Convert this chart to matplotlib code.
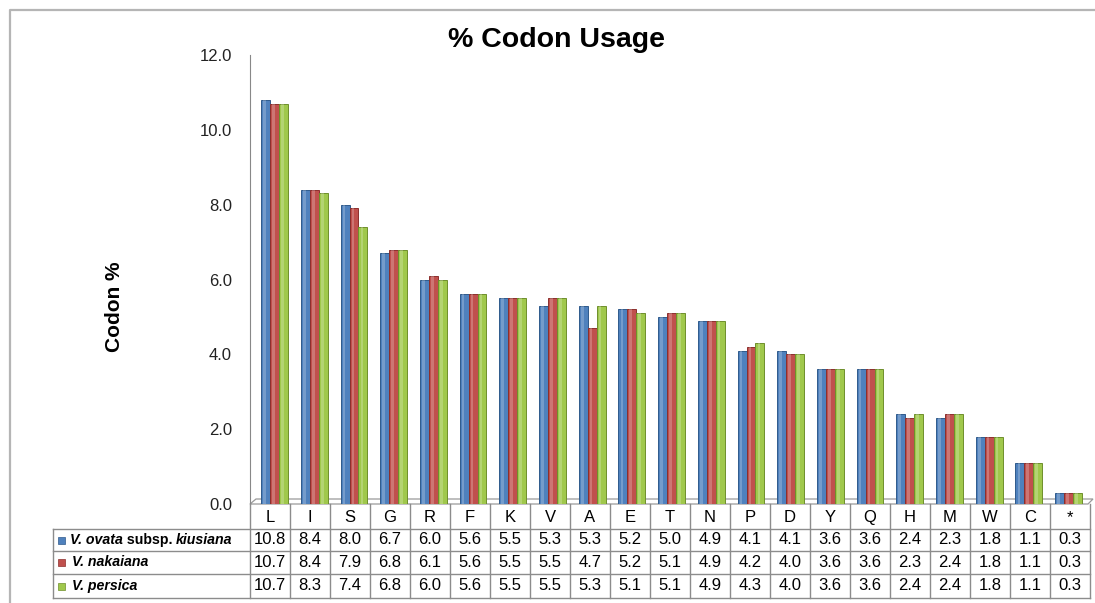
import matplotlib.pyplot as plt
from matplotlib.patches import Polygon, Rectangle
from matplotlib.lines import Line2D
import numpy as np

plt.rcParams['font.family'] = ['Liberation Sans', 'DejaVu Sans']

amino = ['L', 'I', 'S', 'G', 'R', 'F', 'K', 'V', 'A', 'E', 'T',
         'N', 'P', 'D', 'Y', 'Q', 'H', 'M', 'W', 'C', '*']
ovata = [10.8, 8.4, 8.0, 6.7, 6.0, 5.6, 5.5, 5.3, 5.3, 5.2, 5.0,
         4.9, 4.1, 4.1, 3.6, 3.6, 2.4, 2.3, 1.8, 1.1, 0.3]
nakaiana = [10.7, 8.4, 7.9, 6.8, 6.1, 5.6, 5.5, 5.5, 4.7, 5.2, 5.1,
            4.9, 4.2, 4.0, 3.6, 3.6, 2.3, 2.4, 1.8, 1.1, 0.3]
persica = [10.7, 8.3, 7.4, 6.8, 6.0, 5.6, 5.5, 5.5, 5.3, 5.1, 5.1,
           4.9, 4.3, 4.0, 3.6, 3.6, 2.4, 2.4, 1.8, 1.1, 0.3]

series = [ovata, nakaiana, persica]
colors = ['#4f81bd', '#c0504d', '#a0c84c']
edges = ['#2f5a8c', '#8c2f2d', '#6f8f2c']

W, H = 1095, 603
fig = plt.figure(figsize=(W / 100, H / 100), dpi=100)

def frac(x0, y0, x1, y1):
    # pixel box (top-left origin) -> figure fraction rect
    return [x0 / W, 1 - y1 / H, (x1 - x0) / W, (y1 - y0) / H]

# outer frame (top and left edges)
fig.add_artist(Line2D([10 / W, 10 / W, 1], [0, 1 - 10 / H, 1 - 10 / H],
                      transform=fig.transFigure, color='#b5b5b5', lw=1.6))

ax = fig.add_axes(frac(250, 55, 1090, 504))
ax.set_ylim(0, 12)
ax.set_xlim(-0.62, 20.54)
x = np.arange(len(amino))
bw = 0.225
for k, (vals, c, ec) in enumerate(zip(series, colors, edges)):
    pos = x + (k - 1) * bw
    ax.bar(pos, vals, width=bw, color=c, edgecolor=ec, linewidth=0.7, zorder=3)
    # soft highlight for a rounded look
    ax.bar(pos - bw * 0.12, vals, width=bw * 0.3, color='white', alpha=0.22,
           linewidth=0, zorder=4)

for s in ['top', 'right', 'bottom']:
    ax.spines[s].set_visible(False)
ax.spines['left'].set_color('#888888')
ax.set_xticks([])
ax.set_yticks(np.arange(0, 12.1, 2))
ax.set_yticklabels([f'{v:.1f}' for v in np.arange(0, 12.1, 2)])
ax.tick_params(axis='y', length=0, pad=13, labelsize=12, labelcolor='#222222')

# floor of the plot area
floor = Polygon([(0, 0), (838 / 840, 0), (843 / 840, 5 / 449), (6 / 840, 5 / 449)],
                closed=True, transform=ax.transAxes, facecolor='white',
                edgecolor='#9a9a9a', lw=0.9, clip_on=False, zorder=2)
ax.add_patch(floor)

fig.text(556 / W, 1 - 40 / H, '% Codon Usage', ha='center', va='center',
         fontsize=20.5, fontweight='bold')
fig.text(115 / W, 1 - 307 / H, 'Codon %', ha='center', va='center',
         rotation=90, fontsize=15, fontweight='bold')

# data table under the chart, in pixel units
tb = fig.add_axes(frac(53, 504, 1090, 598))
tb.set_xlim(53, 1090)
tb.set_ylim(598, 504)
tb.axis('off')
lc = '#8c8c8c'
rows_y = [504, 529, 551, 574, 598]
col_x = [250 + 40 * i for i in range(len(amino) + 1)]
for cx in col_x:
    tb.plot([cx, cx], [rows_y[0], rows_y[-1]], color=lc, lw=1, clip_on=False)
tb.plot([53, 53], [rows_y[1], rows_y[-1]], color=lc, lw=1, clip_on=False)
for ry in rows_y[1:]:
    tb.plot([53, 1090], [ry, ry], color=lc, lw=1, clip_on=False)

for i, a in enumerate(amino):
    cx = col_x[i] + 20
    tb.text(cx, (rows_y[0] + rows_y[1]) / 2 + 1, a, ha='center', va='center', fontsize=12)
    for r, vals in enumerate(series):
        cy = (rows_y[r + 1] + rows_y[r + 2]) / 2
        tb.text(cx, cy, f'{vals[i]:.1f}', ha='center', va='center', fontsize=12)

# row labels: species names in bold italic, "subsp." upright
labels = [[('V. ovata', 'italic'), (' subsp. ', 'normal'), ('kiusiana', 'italic')],
          [('V. nakaiana', 'italic')],
          [('V. persica', 'italic')]]
renderer = fig.canvas.get_renderer()
inv = tb.transData.inverted()
for r, (parts, c, ec) in enumerate(zip(labels, colors, edges)):
    cy = (rows_y[r + 1] + rows_y[r + 2]) / 2
    tb.add_patch(Rectangle((58, cy - 3.5), 7, 7, facecolor=c, edgecolor=ec, lw=0.5))
    tx = 70 if r == 0 else 72
    base = cy + 4
    for txt, st in parts:
        t = tb.text(tx, base, txt, ha='left', va='baseline', fontsize=10.2,
                    fontweight='bold', fontstyle=st)
        ext = t.get_window_extent(renderer)
        tx = inv.transform((ext.x1, ext.y0))[0]

fig.savefig('out.png', dpi=100)
